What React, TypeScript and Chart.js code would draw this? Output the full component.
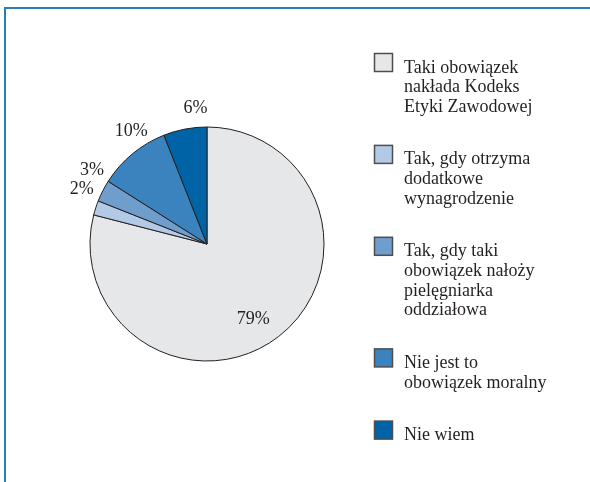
import React, { useEffect, useRef } from "react";
import { Chart, registerables } from "chart.js";

Chart.register(...registerables);

const categories: string[] = [
  "Taki obowiązek\nnakłada Kodeks\nEtyki Zawodowej",
  "Tak, gdy otrzyma\ndodatkowe\nwynagrodzenie",
  "Tak, gdy taki\nobowiązek nałoży\npielęgniarka\noddziałowa",
  "Nie jest to\nobowiązek moralny",
  "Nie wiem",
];
const values: number[] = [79, 2, 3, 10, 6];
const valueLabels: string[] = ["79%", "2%", "3%", "10%", "6%"];
const colors: string[] = ["#e6e7e8", "#b3cae6", "#6f9ecc", "#3a83bf", "#0063a6"];

const TEXT = "#231f20";
const FONT = '18px "Liberation Serif", "Times New Roman", serif';

const sliceLabels = {
  id: "sliceLabels",
  afterDatasetsDraw(chart: any) {
    const ctx = chart.ctx;
    const meta = chart.getDatasetMeta(0);
    ctx.save();
    ctx.font = FONT;
    ctx.fillStyle = TEXT;
    ctx.textAlign = "center";
    ctx.textBaseline = "middle";
    meta.data.forEach((arc: any, i: number) => {
      const p = arc.getProps(["x", "y", "startAngle", "endAngle", "outerRadius"], true);
      const a = (p.startAngle + p.endAngle) / 2 + (6 * Math.PI) / 180;
      const d = values[i] >= 50 ? p.outerRadius * 0.75 : p.outerRadius + 20;
      ctx.fillText(valueLabels[i], p.x + Math.cos(a) * d, p.y + Math.sin(a) * d + 1);
    });
    ctx.restore();
  },
};

const sideLegend = {
  id: "sideLegend",
  afterDraw(chart: any) {
    const ctx = chart.ctx;
    ctx.save();
    // frame
    ctx.strokeStyle = "#2a7dbd";
    ctx.lineWidth = 2;
    ctx.beginPath();
    ctx.moveTo(5, 482);
    ctx.lineTo(5, 8);
    ctx.lineTo(590, 8);
    ctx.stroke();

    ctx.font = FONT;
    ctx.textAlign = "left";
    ctx.textBaseline = "alphabetic";
    const lineH = 19.7;
    const gap = 52.5;
    let baseline = 72.5;
    categories.forEach((cat, i) => {
      const lines = cat.split("\n");
      ctx.fillStyle = colors[i];
      ctx.fillRect(374.5, baseline - 19, 18, 18);
      ctx.strokeStyle = "#4d4d4f";
      ctx.lineWidth = 1.5;
      ctx.strokeRect(374.5, baseline - 19, 18, 18);
      ctx.fillStyle = TEXT;
      lines.forEach((ln, j) => {
        ctx.fillText(ln, 404, baseline + j * lineH);
      });
      baseline += (lines.length - 1) * lineH + gap;
    });
    ctx.restore();
  },
};

export default function App() {
  const ref = useRef<HTMLCanvasElement | null>(null);
  useEffect(() => {
    document.body.style.margin = "0";
    if (!ref.current) return;
    const chart = new Chart(ref.current, {
      type: "pie",
      data: {
        labels: categories,
        datasets: [
          {
            data: values,
            backgroundColor: colors,
            borderColor: TEXT,
            borderWidth: 1,
          },
        ],
      },
      options: {
        animation: false,
        responsive: false,
        events: [],
        radius: 117,
        layout: { padding: { left: 0, right: 176, top: 6, bottom: 0 } },
        plugins: {
          legend: { display: false },
          tooltip: { enabled: false },
        },
      } as any,
      plugins: [sliceLabels, sideLegend],
    });
    return () => chart.destroy();
  }, []);
  return (
    <canvas
      ref={ref}
      width={590}
      height={482}
      style={{ display: "block", width: 590, height: 482 }}
    />
  );
}
